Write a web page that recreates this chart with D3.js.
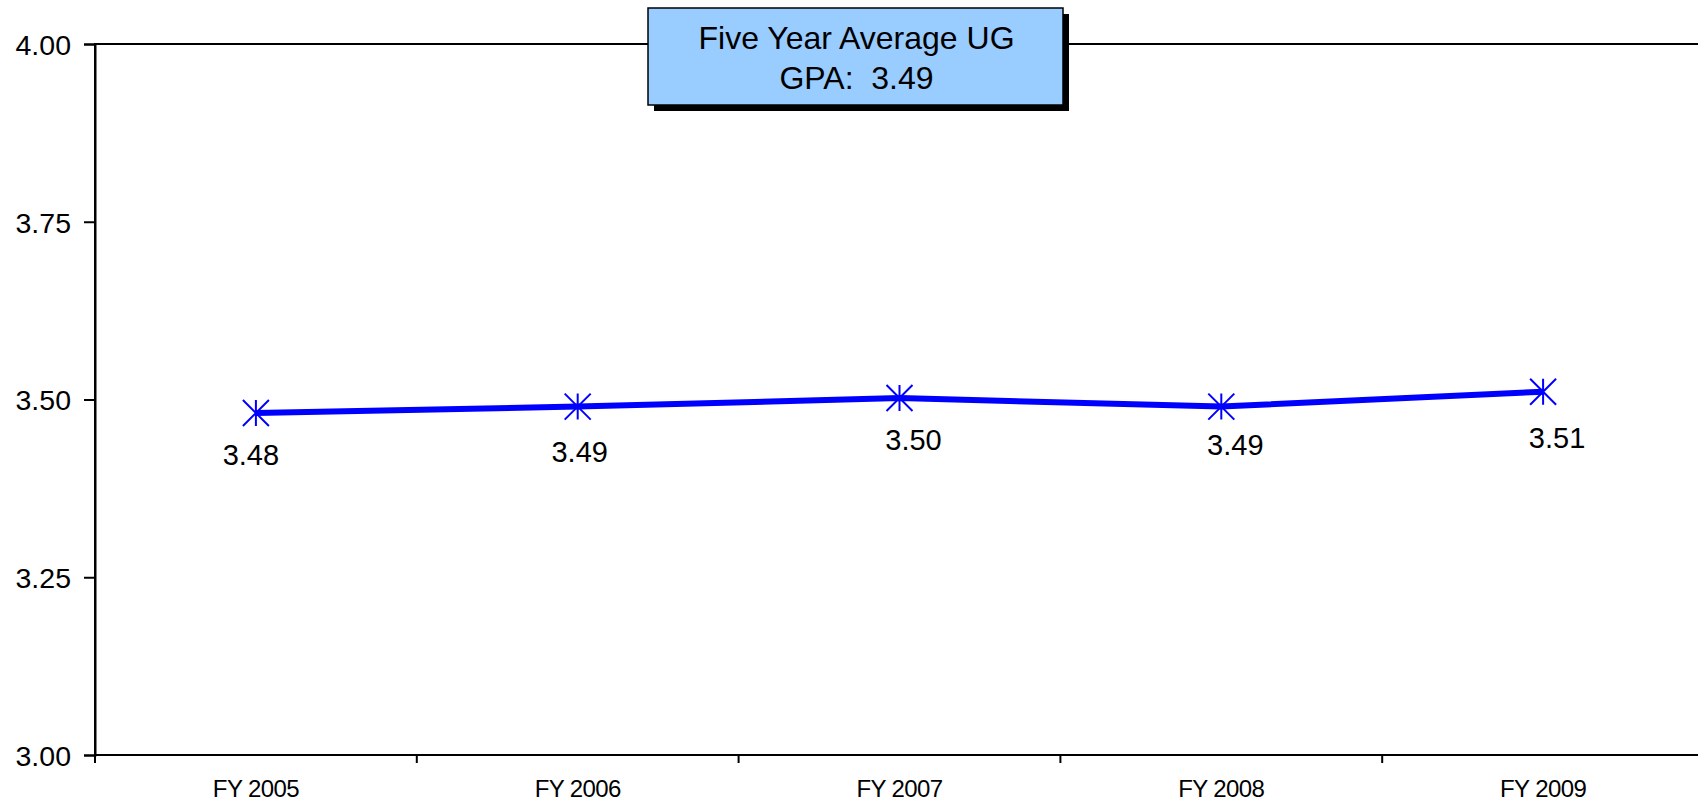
<!DOCTYPE html>
<html>
<head>
<meta charset="utf-8">
<script src="https://cdn.jsdelivr.net/npm/d3@7"></script>
<style>
html,body{margin:0;padding:0;background:#fff;}
svg{display:block;font-family:Arial,"Liberation Sans",sans-serif;}
</style>
</head>
<body>
<svg id="chart" width="1698" height="803"></svg>
<script>
const categories = ["FY 2005", "FY 2006", "FY 2007", "FY 2008", "FY 2009"];
const gpaValues = [3.481, 3.490, 3.502, 3.490, 3.511];
const yTicks = [3.00, 3.25, 3.50, 3.75, 4.00];
const boxLines = ["Five Year Average UG", "GPA:  3.49"];
// label nudges (layout only, px)
const labelDx = [-5, 2, 14, 14, 14];
const labelDy = [52, 55, 52, 48, 56];

(function () {
const svg = d3.select("#chart");
const mLeft = 95, mTop = 44, mBottom = 755, mRight = 1704;

const x = d3.scaleBand().domain(categories).range([mLeft, mRight]).paddingInner(0).paddingOuter(0);
const y = d3.scaleLinear().domain([3, 4]).range([mBottom, mTop]);

// plot border
svg.append("rect").attr("x", mLeft).attr("y", mTop).attr("width", mRight - mLeft).attr("height", mBottom - mTop)
  .attr("fill", "none").attr("stroke", "#000").attr("stroke-width", 2);

// y axis
const yAxis = d3.axisLeft(y).tickValues(yTicks).tickFormat(d3.format(".2f")).tickSize(11).tickPadding(13);
const gy = svg.append("g").attr("transform", `translate(${mLeft},0)`).call(yAxis);
gy.select(".domain").attr("stroke", "#000").attr("stroke-width", 2);
gy.selectAll(".tick line").attr("stroke", "#000").attr("stroke-width", 2);
gy.selectAll(".tick text").attr("font-size", 28.5).attr("fill", "#000").attr("font-family", "Arial, 'Liberation Sans', sans-serif").attr("dy", "0.36em");

// x axis: ticks at band boundaries
const gx = svg.append("g").attr("transform", `translate(0,${mBottom})`);
gx.append("line").attr("x1", mLeft).attr("x2", mRight).attr("y1", 0).attr("y2", 0).attr("stroke", "#000").attr("stroke-width", 2);
const boundaries = categories.map(c => x(c)).concat([x(categories[categories.length - 1]) + x.bandwidth()]);
gx.selectAll("line.tk").data(boundaries).enter().append("line").attr("class", "tk")
  .attr("x1", d => d).attr("x2", d => d).attr("y1", 0).attr("y2", 8).attr("stroke", "#000").attr("stroke-width", 2);
gx.selectAll("text").data(categories).enter().append("text")
  .attr("x", d => x(d) + x.bandwidth() / 2).attr("y", 42)
  .attr("text-anchor", "middle").attr("font-size", 24).attr("letter-spacing", "-0.6px")
  .attr("fill", "#000").text(d => d);

// line
const cx = (d, i) => x(categories[i]) + x.bandwidth() / 2;
const line = d3.line().x((d, i) => cx(d, i)).y(d => y(d));
svg.append("path").datum(gpaValues).attr("d", line).attr("fill", "none")
  .attr("stroke", "#0000FF").attr("stroke-width", 6).attr("stroke-linejoin", "round");

// star markers
const s = 13;
const mk = svg.selectAll("g.mk").data(gpaValues).enter().append("g").attr("class", "mk")
  .attr("transform", (d, i) => `translate(${cx(d, i)},${y(d)})`);
mk.append("path").attr("d", `M0,${-s}L0,${s}M${-s},${-s}L${s},${s}M${-s},${s}L${s},${-s}`)
  .attr("stroke", "#0000FF").attr("stroke-width", 2).attr("fill", "none");

// data labels
svg.selectAll("text.dl").data(gpaValues).enter().append("text").attr("class", "dl")
  .attr("x", (d, i) => cx(d, i) + labelDx[i]).attr("y", (d, i) => y(d) + labelDy[i])
  .attr("text-anchor", "middle").attr("font-size", 29).attr("fill", "#000")
  .text(d => d3.format(".2f")(d));

// text box with shadow
const bx = 648, by = 8, bw = 415, bh = 97;
svg.append("rect").attr("x", bx + 6).attr("y", by + 6).attr("width", bw).attr("height", bh).attr("fill", "#000");
svg.append("rect").attr("x", bx).attr("y", by).attr("width", bw).attr("height", bh)
  .attr("fill", "#99CCFF").attr("stroke", "#000").attr("stroke-width", 1.5);
svg.selectAll("text.bx").data(boxLines).enter().append("text").attr("class", "bx")
  .attr("x", bx + bw / 2 + 1).attr("y", (d, i) => 49 + i * 40)
  .attr("text-anchor", "middle").attr("font-size", 32).attr("fill", "#000")
  .style("white-space", "pre").attr("xml:space", "preserve").text(d => d);
})();
</script>
</body>
</html>
